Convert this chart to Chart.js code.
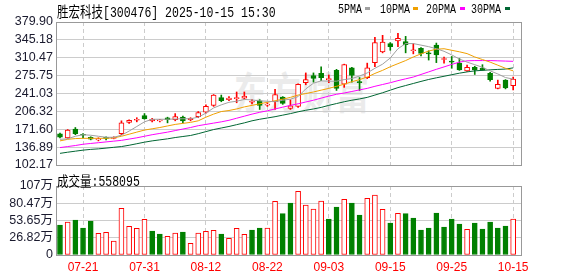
<!DOCTYPE html>
<html><head><meta charset="utf-8">
<script src="https://cdn.jsdelivr.net/npm/chart.js@4.4.0/dist/chart.umd.min.js"></script>
<style>
html,body{margin:0;padding:0;background:#fff;width:578px;height:276px;overflow:hidden;}
body{position:relative;}
.t{position:absolute;white-space:nowrap;color:#000;transform-origin:0 0;font-family:"Liberation Mono","Noto Sans CJK SC",monospace;}
#wm{position:absolute;left:234px;top:60px;font-family:"Noto Sans CJK SC";font-weight:700;font-size:33px;color:#ebebeb;letter-spacing:1px;transform:scaleY(1.3);transform-origin:0 0;white-space:nowrap;}
canvas{position:absolute;left:0;}
.lg{position:absolute;top:3px;font:10px "Liberation Mono",monospace;color:#000;transform:scaleY(1.2);transform-origin:0 0;}
.sw{position:absolute;top:7px;width:5px;height:3px;}
</style></head><body>
<div id="wm">东方财富</div>
<canvas id="k" width="578" height="182" style="top:0;width:578px;height:182px"></canvas>
<canvas id="v" width="578" height="106" style="top:170px;width:578px;height:106px"></canvas>
<div class="t" style="left:57px;top:1px;font-size:11.5px;transform:scaleY(1.25)">胜宏科技[300476] 2025-10-15 15:30</div>
<div class="lg" style="left:338px">5PMA</div><div class="sw" style="left:365px;background:#a0a0a0"></div>
<div class="lg" style="left:380px">10PMA</div><div class="sw" style="left:413px;background:#f0a000"></div>
<div class="lg" style="left:426px">20PMA</div><div class="sw" style="left:460px;background:#ff00ff"></div>
<div class="lg" style="left:471px">30PMA</div><div class="sw" style="left:505px;background:#006633"></div>
<div class="t" style="left:57px;top:170px;font-size:11.5px;transform:scaleY(1.2)">成交量:558095</div>
<script>
const dates = ['07-16','07-17','07-18','07-21','07-22','07-23','07-24','07-25','07-28','07-29','07-30','07-31',
'08-01','08-04','08-05','08-06','08-07','08-08','08-11','08-12','08-13','08-14','08-15','08-18','08-19','08-20','08-21','08-22','08-25','08-26','08-27','08-28','08-29',
'09-01','09-02','09-03','09-04','09-05','09-08','09-09','09-10','09-11','09-12','09-15','09-16','09-17','09-18','09-19','09-22','09-23','09-24','09-25','09-26','09-29','09-30',
'10-09','10-10','10-13','10-14','10-15'];
const openP  = [162.5,155,172,161,156,151,156,154,163,185,189,198,188,188,194,190,195,190,196,205,218,233,229,231,232,224,227,218.5,225,234,212,216,262,276,280,268,286,259,291,264,272,301,322,338,343,342,324,329,320,335,307,304,300,285,292,290.5,280,251,267,256];
const closeP = [156,170,163,160,152.5,153,154,156,184,189,191,192,191,189.5,190,196,188,193,204,216,238,227,232,233,236,226,218,220,239,222,217,259,268,270.5,272,270,251,297,276,262,291,340,341,332,348,336,325,319,318,316,309,302,287,292,287,286.5,268,259,252,269];
const highP  = [164,171,175,163,157,155,157,157,188,190,194,202,193,191,195,202,197,194,206,219,239,238,235,244,244,229,229,223,249,235,229,260,281,281,293,277,288,298,292,272,300,350,354,340,358,352,338,330,324,339,312,313,309,296,294,297,282,267,268,273];
const lowP   = [155,154,161,155,151,149,151,153,161,183,186,191,186,186,184,188,184,188,194,203,216,225,227,223,230,221,210,216,210,220,210,214,258,263,266,262,247,253,263,247,270,293,320,325,332,320,318,314,306,301,300,290,286,284,278,286,265,250,250,248];
const ma5  = [152,153,158,161,160,158,156,156,160,168,177,186,191,191,191,191.5,192,192,195,203,213,219,224,226,229.5,228.5,226.8,226,225,228,230,235,250,261,265.6,265,265,268,270,275,281,290,298,310,328,338,338,335,332,328,323,316,308,302,297,292,285,279,272,269];
const ma10 = [149,152,153.5,154,154,154,154,155,158,162,166,170,172.5,175,178,181,183,185,188,195,201,206,208,211,215,218,221,224,227,230,233.5,238,241,244,247.5,251,255,259,264,268,273,280,286,293,299,305,312,318,323.5,327,328,325,322,318.5,312,307,302,296,290,285];
const ma20 = [136,138,140,142.5,144,145.5,147,148.5,150,152.5,155,158,161,163.5,166,169,172,175,178.5,181,183.5,186,189,193,197,201,204.5,207.5,211,214.5,218,221,224.5,228,232,236,239.5,242,245,248,251,255,258.5,262,266,269.5,273,278,283,288,292.7,297.5,302,304.5,305,305,305,304.5,304,303.5];
const ma30 = [124.8,127,129,131,132.5,133.5,135,136.5,138,140.5,143.5,146.5,149,151,153,155.5,157.5,159.5,163,167,171,174,177,180.5,184,188,191,193.5,196,199,202,205.5,208.5,211,214,218,221.5,225,228,230.5,233.5,238,242.5,247.5,252.5,256.5,260.5,264.5,268.3,271.5,274.5,277.5,280.5,283,285,286,287,287.8,288.5,290.8];
const vol = [46.7,51.3,54.4,42,52.9,33.7,35.2,21.8,72.6,44.6,41.5,55.5,37.3,32.7,29,34.2,35.8,18.1,34.2,36.8,38.4,32.7,25.9,41.5,32.1,38.9,42,42,83.5,64.3,80.9,99,77.8,71.5,84,56,74.6,86.6,80.9,62.2,88.1,93.3,71,49.8,64.8,64.3,57.5,38.9,42,65.3,43.5,56,48.2,39.9,49.8,40.4,51.3,42,45.1,55.81];
const volUp = [0,1,0,0,0,1,1,1,1,1, 1,1,0,0,1,1,0,1,1,1, 1,0,1,1,1,0,0,1,1,0, 0,1,1,1,1,0,0,1,0,0, 1,1,1,0,1,0,0,0,0,0, 0,0,0,1,0,0,0,0,0,1];
const priceTicks = [102.17,136.89,171.60,206.32,241.03,275.75,310.47,345.18,379.90];
const volTicks = [0,26.82,53.65,80.47,107.29];
const volTickLabels = ['0','26.82万','53.65万','80.47万','107万'];
const dateTickLabels = ['07-21','07-31','08-12','08-22','09-03','09-15','09-25','10-15'];

const RED='#ff0000', GREEN='#008000';
const tickIdx = dateTickLabels.map(d=>dates.indexOf(d));
const XMIN=-0.52, XMAX=60.15;
const labelFont = {family:'"Liberation Sans","Noto Sans CJK SC",sans-serif', size:12.5};

const frame = {id:'frame', afterDraw(c){const a=c.chartArea, x=c.ctx; x.save(); x.strokeStyle='#999'; x.lineWidth=1;
  x.strokeRect(Math.round(a.left)+0.5, Math.round(a.top)+0.5, Math.round(a.right-a.left)-1, Math.round(a.bottom-a.top)); x.restore();}};

const up = i => closeP[i] >= openP[i];
const maLine = (d,col)=>({type:'line', data:d.map((v,i)=>({x:i,y:v})), borderColor:col, borderWidth:1, pointRadius:0, tension:0, order:0});

new Chart(document.getElementById('k'), {
  data:{datasets:[
    maLine(ma5,'#a0a0a0'), maLine(ma10,'#f0a000'), maLine(ma20,'#ff00ff'), maLine(ma30,'#006633'),
    {type:'bar', data:openP.map((o,i)=>({x:i,y:[o,closeP[i]]})), grouped:false, barThickness:5, minBarLength:1,
     backgroundColor:openP.map((o,i)=>up(i)?'#ffffff':GREEN), borderColor:openP.map((o,i)=>up(i)?RED:GREEN),
     borderWidth:1, borderSkipped:false, order:1},
    {type:'bar', data:lowP.map((l,i)=>({x:i,y:[l,highP[i]]})), grouped:false, barThickness:1,
     backgroundColor:lowP.map((l,i)=>up(i)?RED:GREEN), borderWidth:0, order:2}
  ]},
  options:{responsive:false, animation:false, events:[],
    layout:{padding:{left:0,top:22,right:56,bottom:17}},
    plugins:{legend:{display:false}, tooltip:{enabled:false}},
    scales:{
      x:{type:'linear', offset:false, min:XMIN, max:XMAX, afterBuildTicks:s=>{s.ticks=tickIdx.map(v=>({value:v}));},
         ticks:{display:false}, grid:{color:'#cccccc', drawTicks:false, offset:false}, border:{display:false, dash:[4,3]},
         afterFit:s=>{s.height=0;}},
      y:{min:102.17, max:379.90, afterBuildTicks:s=>{s.ticks=priceTicks.map(v=>({value:v}));},
         ticks:{callback:v=>Number(v).toFixed(2), font:labelFont, color:'#1a1a2e', padding:3, autoSkip:false},
         grid:{color:'#cccccc', drawTicks:false}, border:{display:false}, afterFit:s=>{s.width=56;}}
    }},
  plugins:[frame]
});

new Chart(document.getElementById('v'), {
  data:{datasets:[
    {type:'bar', data:vol.map((v,i)=>({x:i,y:v})), barThickness:5,
     backgroundColor:volUp.map(u=>u?'#ffffff':GREEN), borderColor:volUp.map(u=>u?RED:GREEN),
     borderWidth:1, borderSkipped:false}
  ]},
  options:{responsive:false, animation:false, events:[],
    layout:{padding:{left:0,top:16,right:56,bottom:0}},
    plugins:{legend:{display:false}, tooltip:{enabled:false}},
    scales:{
      x:{type:'linear', offset:false, min:XMIN, max:XMAX, afterBuildTicks:s=>{s.ticks=tickIdx.map(v=>({value:v}));},
         ticks:{callback:v=>dates[v], color:RED, font:{family:'"Liberation Sans",sans-serif', size:12}, padding:5, autoSkip:false, maxRotation:0},
         grid:{color:'#cccccc', drawTicks:false, offset:false}, border:{display:false, dash:[4,3]},
         afterFit:s=>{s.height=21;}},
      y:{min:0, max:107.29, afterBuildTicks:s=>{s.ticks=volTicks.map(v=>({value:v}));},
         ticks:{callback:(v,i)=>volTickLabels[i], font:labelFont, color:'#1a1a2e', padding:3, autoSkip:false},
         grid:{color:'#cccccc', drawTicks:false}, border:{display:false}, afterFit:s=>{s.width=56;}}
    }},
  plugins:[frame]
});
</script>
</body></html>
